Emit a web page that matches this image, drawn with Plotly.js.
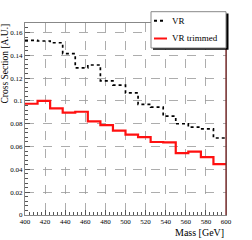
<!DOCTYPE html>
<html>
<head>
<meta charset="utf-8">
<script src="https://cdn.plot.ly/plotly-3.0.1.min.js"></script>
<style>html,body{margin:0;padding:0;background:#fff;}#plot{width:252px;height:240px;}</style>
</head>
<body>
<div id="plot"></div>
<script>
// bin edges (GeV)
const binEdges = [400, 412.5, 425, 437.5, 450, 462.5, 475, 487.5, 500, 512.5, 525, 537.5, 550, 562.5, 575, 587.5, 600];
// VR (black dotted)
const vrValues = [0.153, 0.1525, 0.151, 0.1415, 0.129, 0.1315, 0.1175, 0.1138, 0.107, 0.097, 0.0945, 0.0866, 0.080, 0.077, 0.0755, 0.0675];
// VR trimmed (red)
const vrTrimmedValues = [0.0975, 0.100, 0.0935, 0.0897, 0.0905, 0.082, 0.0787, 0.074, 0.0705, 0.0682, 0.064, 0.0637, 0.0543, 0.0555, 0.0508, 0.0446];
const xTickVals = [400, 420, 440, 460, 480, 500, 520, 540, 560, 580, 600];
const yTickVals = [0, 0.02, 0.04, 0.06, 0.08, 0.1, 0.12, 0.14, 0.16];
const yTickText = ["0", "0.02", "0.04", "0.06", "0.08", "0.1", "0.12", "0.14", "0.16"];
const seriesNames = ["VR", "VR trimmed"];

function stepY(v) { return v.concat([v[v.length - 1]]); }

const font = "Liberation Serif, Times New Roman, serif";

const traces = [
  {x: binEdges, y: stepY(vrValues), mode: 'lines', line: {shape: 'hv', color: '#000', width: 1.7, dash: 'dot'}, name: seriesNames[0], showlegend: false},
  {x: binEdges, y: stepY(vrTrimmedValues), mode: 'lines', line: {shape: 'hv', color: '#ff1010', width: 2.2}, name: seriesNames[1], showlegend: false}
];

const ymax = 1.1 * Math.max(...vrValues);

const layout = {
  width: 252, height: 240,
  margin: {l: 25, r: 26, t: 23, b: 25, pad: 0},
  paper_bgcolor: '#fff', plot_bgcolor: '#fff',
  font: {family: font, size: 7, color: '#000'},
  xaxis: {
    range: [400, 600], tickvals: xTickVals, ticks: 'inside', ticklen: 5, tickcolor: '#555',
    showgrid: true, gridcolor: '#999', griddash: 'dash', gridwidth: 0.8,
    showline: true, linecolor: '#888', linewidth: 1, mirror: true, zeroline: false,
    tickfont: {family: font, size: 7},
    minor: {dtick: 4, ticks: 'inside', ticklen: 3, tickcolor: '#555', showgrid: false}
  },
  yaxis: {
    range: [0, ymax], tickvals: yTickVals, ticktext: yTickText, ticks: 'inside', ticklen: 5, tickcolor: '#555',
    showgrid: true, gridcolor: '#999', griddash: 'dash', gridwidth: 0.8,
    showline: true, linecolor: '#888', linewidth: 1, mirror: true, zeroline: false,
    tickfont: {family: font, size: 7},
    minor: {dtick: 0.004, ticks: 'inside', ticklen: 3, tickcolor: '#555', showgrid: false}
  },
  shapes: [
    // right frame (dark red)
    {type: 'line', xref: 'paper', yref: 'paper', x0: 1, x1: 1, y0: 0, y1: 1, line: {color: '#7a2626', width: 1.3}},
    // legend shadow
    {type: 'rect', xref: 'paper', yref: 'paper', x0: (153 - 25) / 201, x1: (228.5 - 25) / 201, y0: (215 - 49.8) / 192, y1: (215 - 13.5) / 192, fillcolor: '#000', line: {width: 0}, layer: 'above'},
    // legend box
    {type: 'rect', xref: 'paper', yref: 'paper', x0: (151 - 25) / 201, x1: (226 - 25) / 201, y0: (215 - 48) / 192, y1: (215 - 11.7) / 192, fillcolor: '#fff', line: {color: '#888', width: 1}, layer: 'above'},
    // legend samples
    {type: 'line', xref: 'paper', yref: 'paper', x0: (154 - 25) / 201, x1: (166 - 25) / 201, y0: (215 - 20.8) / 192, y1: (215 - 20.8) / 192, line: {color: '#000', width: 2, dash: 'dot'}, layer: 'above'},
    {type: 'line', xref: 'paper', yref: 'paper', x0: (154 - 25) / 201, x1: (167 - 25) / 201, y0: (215 - 38.5) / 192, y1: (215 - 38.5) / 192, line: {color: '#ff1010', width: 2}, layer: 'above'}
  ],
  annotations: [
    {text: seriesNames[0], xref: 'paper', yref: 'paper', x: (169.5 - 25) / 201, y: (215 - 20.8) / 192, xanchor: 'left', yanchor: 'middle', showarrow: false, font: {family: font, size: 9, color: '#000'}},
    {text: seriesNames[1], xref: 'paper', yref: 'paper', x: (169.5 - 25) / 201, y: (215 - 38.5) / 192, xanchor: 'left', yanchor: 'middle', showarrow: false, font: {family: font, size: 9, color: '#000'}},
    {text: 'Mass [GeV]', xref: 'paper', yref: 'paper', x: 1, y: (215 - 232) / 192, xanchor: 'right', yanchor: 'middle', showarrow: false, font: {family: font, size: 10, color: '#000'}},
    {text: 'Cross Section [A.U.]', xref: 'paper', yref: 'paper', x: (4.5 - 25) / 201, y: 1, xanchor: 'center', yanchor: 'top', textangle: -90, showarrow: false, borderpad: 0, font: {family: font, size: 9.5, color: '#000'}}
  ]
};

Plotly.newPlot('plot', traces, layout, {displayModeBar: false, staticPlot: true});
</script>
</body>
</html>
